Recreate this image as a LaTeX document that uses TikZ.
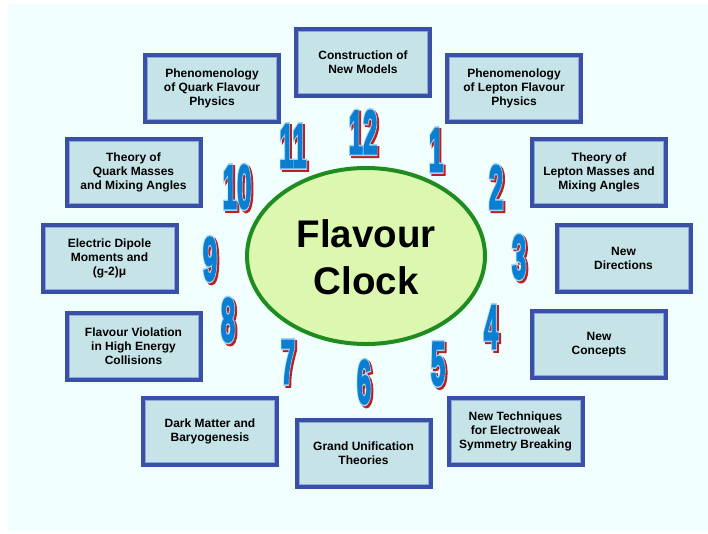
\documentclass[tikz,border=0pt]{standalone}
\usepackage{fontspec}
\setmainfont{Liberation Sans}
\newfontfamily\numA{Liberation Sans}[BoldFeatures={FakeBold=3}]
\newfontfamily\numB{Liberation Sans}[BoldFeatures={FakeBold=8}]
\usepackage{graphicx}
\definecolor{bgc}{RGB}{240,254,254}
\definecolor{boxfill}{RGB}{198,228,232}
\definecolor{boxblue}{RGB}{58,80,166}
\definecolor{boxinner}{RGB}{140,168,220}
\definecolor{ellfill}{RGB}{220,248,176}
\definecolor{ellgreen}{RGB}{30,140,30}
\definecolor{numblue}{RGB}{10,126,208}
\definecolor{numlight}{RGB}{160,212,245}
\definecolor{numred}{RGB}{190,30,30}
\newcommand\numglyph[3]{\textcolor{#1}{\scalebox{0.42}[1]{\fontsize{62}{62}#2\bfseries #3}}}
\newcommand\numstack[1]{%
  \setbox0\hbox{\numglyph{numblue}{\numA}{#1}}%
  \makebox[\wd0][l]{%
    \rlap{\kern2pt\raisebox{-2pt}{\numglyph{numred}{\numB}{#1}}}%
    \rlap{\numglyph{numlight}{\numB}{#1}}%
    \rlap{\numglyph{numblue}{\numA}{#1}}}}
\begin{document}
\begin{tikzpicture}[x=1pt,y=-1pt,
  topic/.style={draw=boxblue, line width=4pt, fill=boxfill, minimum width=134pt,
    minimum height=67pt, align=center, inner sep=0pt,
    font=\fontsize{12}{14}\selectfont\bfseries,
    path picture={\draw[boxinner, line width=1pt]
      ([shift={(2.5pt,2.5pt)}]path picture bounding box.south west) rectangle
      ([shift={(-2.5pt,-2.5pt)}]path picture bounding box.north east);}},
  numnode/.style={inner sep=0pt},
  title/.style={anchor=base, inner sep=0pt, font=\fontsize{38.5}{44}\selectfont\bfseries}]
\useasboundingbox (0,0) rectangle (708,533);
\fill[white] (0,0) rectangle (708,533);
\fill[bgc] (8,4) rectangle (708,531);

\node[topic] (c12) at (363,62.5) {Construction of\\New Models};
\node[topic] (c11) at (212,88.5) {Phenomenology\\of Quark Flavour\\Physics};
\node[topic] (c1) at (514,88.5) {Phenomenology\\of Lepton Flavour\\Physics};
\node[topic] (c10) at (133.5,172.5) {Theory of\\Quark Masses\\and Mixing Angles};
\node[topic] (c2) at (599,172.5) {Theory of\\Lepton Masses and\\Mixing Angles};
\node[topic] (c9) at (109.5,258.5) {Electric Dipole\\Moments and\\(g-2)μ};
\node[topic] (c3) at (623.5,258.5) {New\\Directions};
\node[topic] (c8) at (133.5,346.5) {Flavour Violation\\in High Energy\\Collisions};
\node[topic] (c4) at (599,344.5) {New\\Concepts};
\node[topic] (c7) at (210,431.5) {Dark Matter and\\Baryogenesis};
\node[topic] (c5) at (515.5,431.5) {New Techniques\\for Electroweak\\Symmetry Breaking};
\node[topic] (c6) at (363.5,453.5) {Grand Unification\\Theories};

\draw[ellgreen, line width=4pt, fill=ellfill] (366,256) ellipse [x radius=119, y radius=88];
\node[title] (ft1) at (366,247) {Flavour};
\node[title] (ft2) at (366,294) {Clock};

\node[numnode] (n12) at (363,133) {\numstack{12}};
\node[numnode] (n11) at (293,147) {\numstack{11}};
\node[numnode] (n1) at (436,151) {\numstack{1}};
\node[numnode] (n2) at (496,188) {\numstack{2}};
\node[numnode] (n10) at (237,188) {\numstack{10}};
\node[numnode] (n3) at (519,258) {\numstack{3}};
\node[numnode] (n9) at (210,260) {\numstack{9}};
\node[numnode] (n4) at (491,328) {\numstack{4}};
\node[numnode] (n8) at (228,321) {\numstack{8}};
\node[numnode] (n5) at (438,365) {\numstack{5}};
\node[numnode] (n7) at (288,363) {\numstack{7}};
\node[numnode] (n6) at (364,383) {\numstack{6}};
\end{tikzpicture}
\end{document}
